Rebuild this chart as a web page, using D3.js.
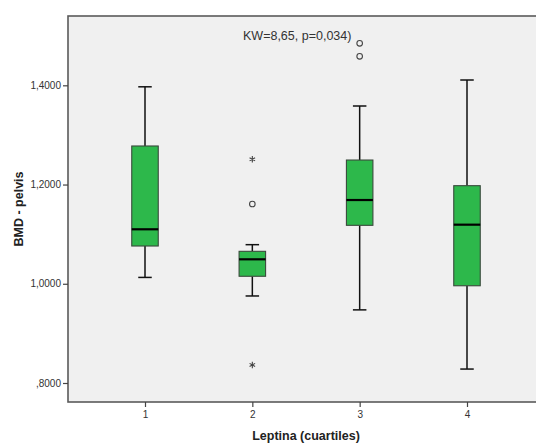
<!DOCTYPE html>
<html>
<head>
<meta charset="utf-8">
<script src="https://d3js.org/d3.v7.min.js"></script>
<style>
  html, body { margin: 0; padding: 0; background: #ffffff; }
  svg { display: block; }
</style>
</head>
<body>
<svg id="chart" width="536" height="445"></svg>
<script>
// Leptin quartile groups and pelvic BMD summaries
const categories = ["1", "2", "3", "4"];
const whiskerLow  = [1.0128, 0.9754, 0.9474, 0.8281];
const q1          = [1.0761, 1.0151, 1.1178, 0.9960];
const median      = [1.1098, 1.0493, 1.1688, 1.1191];
const q3          = [1.2777, 1.0654, 1.2494, 1.1977];
const whiskerHigh = [1.3970, 1.0788, 1.3583, 1.4107];
// Outliers (circles) and extremes (stars)
const outlierGroup = ["2", "3", "3"];
const outlierValue = [1.1608, 1.4584, 1.4846];
const extremeGroup = ["2", "2"];
const extremeValue = [1.2509, 0.8363];
const yTicks = [0.8, 1.0, 1.2, 1.4];
const annotation = "KW=8,65, p=0,034)";

const svg = d3.select("#chart");
const plot = { left: 68, top: 16, right: 545, bottom: 402 };

const x = d3.scalePoint()
  .domain(categories)
  .range([145, 467]);

const y = d3.scaleLinear()
  .domain([0.7617, 1.5397])
  .range([plot.bottom, plot.top]);

const fmt = v => d3.format(".4f")(v).replace(/^0/, "").replace(".", ",");

// plot background and frame
svg.append("rect")
  .attr("x", plot.left).attr("y", plot.top)
  .attr("width", plot.right - plot.left).attr("height", plot.bottom - plot.top)
  .attr("fill", "#f0f0f0")
  .attr("stroke", "#5a5a5a").attr("stroke-width", 1.6);

// axes
const yAxis = svg.append("g")
  .attr("transform", `translate(${plot.left},0)`)
  .call(d3.axisLeft(y).tickValues(yTicks).tickFormat(fmt).tickSize(5).tickPadding(2));
const xAxis = svg.append("g")
  .attr("transform", `translate(0,${plot.bottom})`)
  .call(d3.axisBottom(x).tickSize(5).tickPadding(4));
[yAxis, xAxis].forEach(g => {
  g.select(".domain").remove();
  g.selectAll(".tick line").attr("stroke", "#444").attr("stroke-width", 1.2);
  g.selectAll(".tick text")
    .attr("fill", "#333")
    .style("font-family", "'Liberation Sans', Arial, sans-serif")
    .style("font-size", "10px");
});

// axis titles
svg.append("text")
  .attr("transform", `translate(22.5,${(plot.top + plot.bottom) / 2}) rotate(-90)`)
  .attr("text-anchor", "middle")
  .style("font-family", "'Liberation Sans', Arial, sans-serif")
  .style("font-size", "12.5px").style("font-weight", "bold")
  .attr("fill", "#222")
  .text("BMD - pelvis");
svg.append("text")
  .attr("x", 306).attr("y", 440)
  .attr("text-anchor", "middle")
  .style("font-family", "'Liberation Sans', Arial, sans-serif")
  .style("font-size", "12.5px").style("font-weight", "bold")
  .attr("fill", "#222")
  .text("Leptina (cuartiles)");

// boxes
const boxW = 26.5, capW = 13.5;
const rows = categories.map((c, i) => ({
  c, lo: whiskerLow[i], q1: q1[i], med: median[i], q3: q3[i], hi: whiskerHigh[i]
}));
const g = svg.append("g");
rows.forEach(d => {
  const cx = x(d.c);
  g.append("line").attr("x1", cx).attr("x2", cx)
    .attr("y1", y(d.hi)).attr("y2", y(d.q3))
    .attr("stroke", "#111").attr("stroke-width", 1.5);
  g.append("line").attr("x1", cx).attr("x2", cx)
    .attr("y1", y(d.q1)).attr("y2", y(d.lo))
    .attr("stroke", "#111").attr("stroke-width", 1.5);
  g.append("line").attr("x1", cx - capW / 2).attr("x2", cx + capW / 2)
    .attr("y1", y(d.hi)).attr("y2", y(d.hi))
    .attr("stroke", "#111").attr("stroke-width", 1.5);
  g.append("line").attr("x1", cx - capW / 2).attr("x2", cx + capW / 2)
    .attr("y1", y(d.lo)).attr("y2", y(d.lo))
    .attr("stroke", "#111").attr("stroke-width", 1.5);
  g.append("rect")
    .attr("x", cx - boxW / 2).attr("y", y(d.q3))
    .attr("width", boxW).attr("height", y(d.q1) - y(d.q3))
    .attr("fill", "#2db84b").attr("stroke", "#3a4a3c").attr("stroke-width", 1.1);
  g.append("line").attr("x1", cx - boxW / 2).attr("x2", cx + boxW / 2)
    .attr("y1", y(d.med)).attr("y2", y(d.med))
    .attr("stroke", "#000").attr("stroke-width", 2.2);
});

// outliers
outlierValue.forEach((v, i) => {
  g.append("circle")
    .attr("cx", x(outlierGroup[i])).attr("cy", y(v)).attr("r", 2.8)
    .attr("fill", "none").attr("stroke", "#444").attr("stroke-width", 1.1);
});
// extremes
const star = d3.symbol().type(d3.symbolAsterisk).size(28);
extremeValue.forEach((v, i) => {
  g.append("path")
    .attr("d", star())
    .attr("transform", `translate(${x(extremeGroup[i])},${y(v)})`)
    .attr("fill", "none").attr("stroke", "#444").attr("stroke-width", 1.1);
});

// test statistic
svg.append("text")
  .attr("x", 243).attr("y", 39.5)
  .style("font-family", "'Liberation Sans', Arial, sans-serif")
  .style("font-size", "12.5px")
  .attr("fill", "#333")
  .text(annotation);
</script>
</body>
</html>
